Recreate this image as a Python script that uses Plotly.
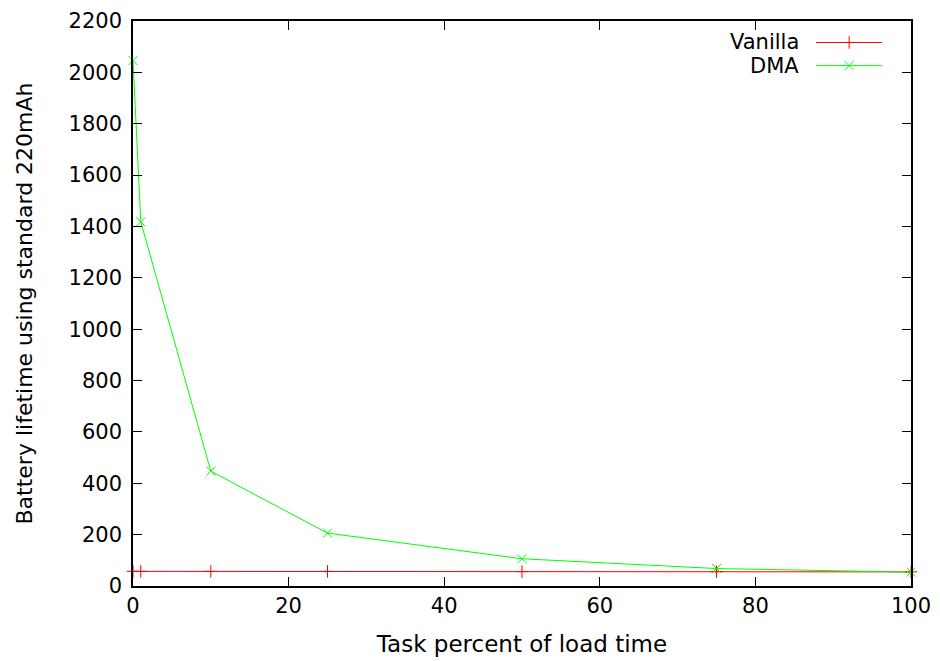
import plotly.graph_objects as go

x_vals = [0, 1, 10, 25, 50, 75, 100]
vanilla = [57, 57, 57, 57, 56, 56, 55]
dma = [2046, 1418, 447, 206, 106, 68, 54]

x_ticks = [0, 20, 40, 60, 80, 100]
y_ticks = list(range(0, 2201, 200))

FONT = "'DejaVu Sans', sans-serif"

fig = go.Figure()
fig.add_trace(go.Scatter(x=x_vals, y=vanilla, mode="lines+markers", name="Vanilla",
                         line=dict(color="#ff0000", width=1),
                         marker=dict(symbol="cross-thin-open", size=9, color="#ff0000",
                                     line=dict(color="#ff0000", width=1)),
                         cliponaxis=False, showlegend=False))
fig.add_trace(go.Scatter(x=x_vals, y=dma, mode="lines+markers", name="DMA",
                         line=dict(color="#00ff00", width=1),
                         marker=dict(symbol="x-thin-open", size=9, color="#00ff00",
                                     line=dict(color="#00ff00", width=1)),
                         cliponaxis=False, showlegend=False))

# Custom gnuplot-style legend (text left of sample) on an overlay axis
leg_names = ["Vanilla", "DMA"]
leg_colors = ["#ff0000", "#00ff00"]
leg_symbols = ["cross-thin-open", "x-thin-open"]
leg_y = [0.962, 0.921]
for name, col, sym, yy in zip(leg_names, leg_colors, leg_symbols, leg_y):
    fig.add_trace(go.Scatter(x=[0.878, 0.963], y=[yy, yy], mode="lines",
                             line=dict(color=col, width=1), xaxis="x2", yaxis="y2",
                             showlegend=False, hoverinfo="skip"))
    fig.add_trace(go.Scatter(x=[0.9205], y=[yy], mode="markers",
                             marker=dict(symbol=sym, size=9, color=col,
                                         line=dict(color=col, width=1)),
                             xaxis="x2", yaxis="y2", showlegend=False, hoverinfo="skip"))
    fig.add_annotation(x=0.858, y=yy, xref="paper", yref="paper", text=name,
                       showarrow=False, xanchor="right", yanchor="middle",
                       font=dict(family=FONT, size=21, color="#000000"))

fig.update_layout(
    width=940, height=661,
    margin=dict(l=125, r=37, t=13, b=83),
    paper_bgcolor="white", plot_bgcolor="white",
    font=dict(family=FONT, size=21, color="#000000"),
    xaxis=dict(range=[0, 100], tickvals=x_ticks, ticks="inside", ticklen=9,
               tickcolor="black", showline=True, linecolor="black", linewidth=1.5,
               mirror="ticks", showgrid=False, zeroline=False, automargin=False,
               tickfont=dict(size=21), ticklabeloverflow="allow",
               title=dict(text="Task percent of load time", standoff=19,
                          font=dict(size=23))),
    yaxis=dict(range=[0, 2200], tickvals=y_ticks, ticks="inside", ticklen=9,
               tickcolor="black", showline=True, linecolor="black", linewidth=1.5,
               mirror="ticks", showgrid=False, zeroline=False, automargin=False,
               tickfont=dict(size=21), ticklabeloverflow="allow", ticklabelstandoff=5,
               title=dict(text="Battery lifetime using standard 220mAh", standoff=30,
                          font=dict(size=22))),
    xaxis2=dict(overlaying="x", range=[0, 1], visible=False),
    yaxis2=dict(overlaying="y", range=[0, 1], visible=False),
)

fig.write_html("out.html")
